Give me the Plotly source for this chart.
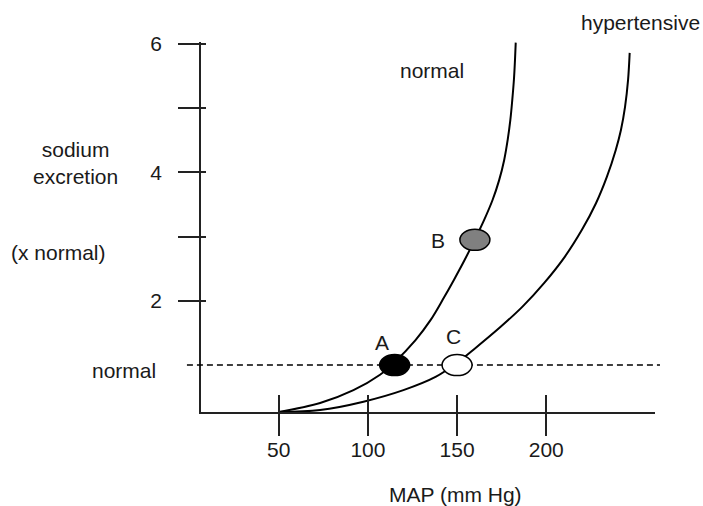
import plotly.graph_objects as go

# Pressure-natriuresis curves: sodium excretion vs mean arterial pressure
normal_map = [50, 73.2, 91.9, 106.8, 114.4, 126.7, 135.1, 142.0, 148.3, 154.3,
              159.9, 165.2, 169.9, 173.6, 176.4, 178.4, 179.9, 181.0, 181.9,
              182.5, 182.9]
normal_na = [0.27, 0.41, 0.61, 0.85, 1.03, 1.39, 1.70, 2.02, 2.33, 2.64,
             2.95, 3.26, 3.57, 3.88, 4.19, 4.51, 4.82, 5.14, 5.45, 5.76, 6.02]

hyper_map = [50, 73.2, 97.5, 119.9, 138.2, 149.7, 159.2, 174.6, 186.7, 198.9,
             210.5, 220.1, 227.9, 234.0, 239.0, 241.9, 244.2, 245.9, 246.8]
hyper_na = [0.27, 0.30, 0.43, 0.61, 0.82, 1.03, 1.24, 1.60, 1.91, 2.28,
            2.69, 3.11, 3.52, 3.93, 4.35, 4.66, 5.02, 5.44, 5.86]

# Operating points
point_names = ["A", "B", "C"]
point_map = [115, 160, 150]
point_na = [1.0, 2.95, 1.0]
point_fill = ["#000000", "#808080", "#ffffff"]

normal_level = 1.0

x_ticks = [50, 100, 150, 200]
y_ticks = [2, 3, 4, 5, 6]
y_ticktext = ["2", "", "4", "", "6"]

X_RANGE = [6.4, 261.0]
Y_RANGE = [0.27, 6.03]

FONT = "Liberation Sans, Arial, sans-serif"
INK = "#1a1a1a"

fig = go.Figure()

for xs, ys in ((normal_map, normal_na), (hyper_map, hyper_na)):
    fig.add_trace(go.Scatter(
        x=xs, y=ys, mode="lines",
        line=dict(color="#000000", width=2, shape="spline", smoothing=1.0),
        hoverinfo="skip", showlegend=False,
    ))

# empty trace on the overlay axes (used for the inner half of the tick marks)
fig.add_trace(go.Scatter(x=[], y=[], xaxis="x2", yaxis="y2",
                         hoverinfo="skip", showlegend=False))

shapes = [dict(
    type="line", xref="paper", yref="y",
    x0=-0.031, x1=1.011, y0=normal_level, y1=normal_level,
    line=dict(color="#000000", width=1.5, dash="6px,4px"),
)]
for name, px, py, fc in zip(point_names, point_map, point_na, point_fill):
    shapes.append(dict(
        type="circle", xref="x", yref="y",
        xsizemode="pixel", ysizemode="pixel",
        xanchor=px, yanchor=py, x0=-15, x1=15, y0=-10.5, y1=10.5,
        fillcolor=fc, line=dict(color="#000000", width=1.5), layer="above",
    ))

label_shift = {"A": (-13, 23), "B": (-37, -1), "C": (-4, 29)}
annotations = []
for name, px, py in zip(point_names, point_map, point_na):
    dx, dy = label_shift[name]
    annotations.append(dict(
        x=px, y=py, xref="x", yref="y", text=name, showarrow=False,
        xshift=dx, yshift=dy, font=dict(size=21, color=INK, family=FONT),
    ))


def paper_label(text, cx, cy):
    # place a free label centred on a pixel position of the 703x506 canvas
    return dict(
        x=(cx - 201) / 454, y=(412 - cy) / 370, xref="paper", yref="paper",
        text=text, showarrow=False, xanchor="center", yanchor="middle",
        font=dict(size=21, color=INK, family=FONT),
    )


annotations += [
    paper_label("normal", 432, 70),
    paper_label("hypertensive", 640, 22),
    paper_label("sodium<br>excretion", 75, 163),
    paper_label("(x normal)", 58, 252),
    paper_label("normal", 124, 370),
    paper_label("MAP (mm Hg)", 455, 494),
]

axis_common = dict(showgrid=False, zeroline=False, tickcolor="#222222",
                   tickwidth=1.5)

fig.update_layout(
    width=703, height=506,
    margin=dict(l=201, r=48, t=42, b=94),
    paper_bgcolor="#ffffff", plot_bgcolor="#ffffff",
    font=dict(family=FONT, size=21, color=INK),
    showlegend=False,
    shapes=shapes,
    annotations=annotations,
    xaxis=dict(range=X_RANGE, tickvals=x_ticks, ticks="outside", ticklen=22,
               showline=True, linecolor="#222222", linewidth=1.5,
               tickfont=dict(size=21, color=INK, family=FONT),
               ticklabelstandoff=-4, **axis_common),
    yaxis=dict(range=Y_RANGE, tickvals=y_ticks, ticktext=y_ticktext,
               ticks="outside", ticklen=21, showline=True,
               linecolor="#222222", linewidth=1.5,
               tickfont=dict(size=21, color=INK, family=FONT),
               ticklabelstandoff=12, **axis_common),
    xaxis2=dict(range=X_RANGE, tickvals=x_ticks, ticks="inside", ticklen=17,
                overlaying="x", anchor="y2", side="bottom",
                showticklabels=False, showline=False, **axis_common),
    yaxis2=dict(range=Y_RANGE, tickvals=y_ticks, ticks="inside", ticklen=5,
                overlaying="y", anchor="x2", side="left",
                showticklabels=False, showline=False, **axis_common),
)

fig.write_html("out.html")
